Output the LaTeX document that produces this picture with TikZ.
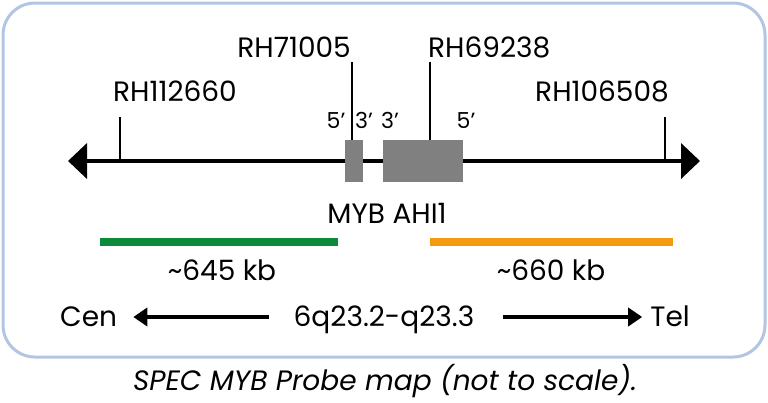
\documentclass[tikz,border=0pt]{standalone}
\usepackage{fontspec}
\setmainfont{Poppins}
\usetikzlibrary{arrows.meta}
\usetikzlibrary{positioning}

\definecolor{framebl}{RGB}{178,198,228}
\definecolor{genegray}{RGB}{128,128,128}
\definecolor{probegreen}{RGB}{12,138,58}
\definecolor{probeorange}{RGB}{243,154,16}

\begin{document}
\begin{tikzpicture}[
                x=1pt, y=-1pt,
                every node/.style={inner sep=0pt, font=\fontsize{28}{32}\selectfont},
                gene/.style={fill=genegray, minimum height=42pt},
                tick/.style={line width=1.5pt},
                prime/.style={anchor=base, font=\fontsize{22}{26}\selectfont},
                probe/.style={line width=8pt},
                chrom/.style={line width=4pt, {Triangle[length=19pt,width=35pt]}-{Triangle[length=19pt,width=35pt]}},
                orient/.style={line width=4pt, -{Triangle[length=14pt,width=18pt]}}
            ]

            \useasboundingbox (0,0) rectangle (768,402);

            % Frame
            \draw[framebl, line width=3pt, rounded corners=32pt] (3,3) rectangle (765,357);

            % Chromosome line and genes
            \coordinate (cenend) at (68,161);
            \coordinate (telend) at (700,161);
            \draw[chrom] (cenend) -- (telend);

            \node[gene, minimum width=18pt] (myb) at (354,161) {};
            \node[gene, minimum width=80pt] (ahi1) at (423,161) {};
            \node[anchor=base] (genes) at (387,223) {MYB AHI1};

            % Strand ends
            \node[prime] (myb5) at (336,128) {5’};
            \node[prime] (myb3) at (364,128) {3’};
            \node[prime] (ahi3) at (390,128) {3’};
            \node[prime] (ahi5) at (466,128) {5’};

            % Markers
            \coordinate (t1) at (120,117);
            \coordinate (t2) at (352,62);
            \coordinate (t3) at (430,62);
            \coordinate (t4) at (665,117);
            \node[anchor=base west] (rh112660) at (113,101) {RH112660};
            \node[anchor=base east] (rh71005) at (351,57) {RH71005};
            \node[anchor=base west] (rh69238) at (428,57) {RH69238};
            \node[anchor=base east] (rh106508) at (669,101) {RH106508};
            \draw[tick] (t1) -- (t1 |- cenend);
            \draw[tick] (t2) -- (t2 |- myb.north);
            \draw[tick] (t3) -- (t3 |- ahi1.north);
            \draw[tick] (t4) -- (t4 |- telend);

            % Probes
            \coordinate (g1) at (100,242);
            \coordinate (g2) at (338,242);
            \coordinate (o1) at (430,242);
            \coordinate (o2) at (673,242);
            \draw[probe, probegreen] (g1) -- (g2);
            \draw[probe, probeorange] (o1) -- (o2);
            \node[anchor=base] (kb645) at (222,280) {\char`\~645 kb};
            \node[anchor=base] (kb660) at (551,280) {\char`\~660 kb};

            % Orientation
            \node[anchor=base west] (cen) at (60,326) {Cen};
            \node[anchor=base] (band) at (384,326) {6q23.2-q23.3};
            \node[anchor=base east] (tel) at (690,326) {Tel};
            \draw[orient] (band.west |- 0,317) -- (cen.east |- 0,317) [shorten <=25pt, shorten >=16pt];
            \draw[orient] (band.east |- 0,317) -- (tel.west |- 0,317) [shorten <=28pt, shorten >=8pt];

            % Caption
            \node[anchor=base, font=\fontsize{28}{32}\selectfont\itshape] (caption) at (385,390) {SPEC MYB Probe map (not to scale).};

        \end{tikzpicture}
\end{document}
